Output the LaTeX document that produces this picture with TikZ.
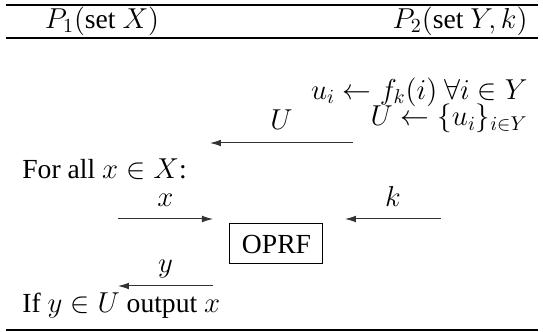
\documentclass[tikz,border=0pt]{standalone}
\usepackage{amsmath}
\usepackage[no-math]{fontspec}
\setmainfont{Liberation Serif}
\usetikzlibrary{arrows.meta}
\begin{document}
\begin{tikzpicture}[x=0.5pt,y=-0.5pt,
  every node/.style={font=\fontsize{13.8}{16}\selectfont, inner sep=0pt},
  heavyrule/.style={line width=1.1pt},
  lightrule/.style={line width=0.7pt},
  msg/.style={line width=0.5pt, draw=black!80, -{Latex[length=5.5pt,width=3.4pt]}},
  lbl/.style={anchor=base, yshift=6.5pt},
  prfbox/.style={draw, line width=0.5pt, minimum width=46.5pt, minimum height=20pt}]
\useasboundingbox (0,0) rectangle (543,332);
% rules
\coordinate (tl) at (6,5);   \coordinate (tr) at (538,5);
\coordinate (ml) at (6,38);  \coordinate (mr) at (538,38);
\coordinate (bl) at (6,330); \coordinate (br) at (538,330);
\draw[heavyrule] (tl) -- (tr);
\draw[lightrule] (ml) -- (mr);
\draw[heavyrule] (bl) -- (br);
% headers
\node[anchor=base] (p1) at (102,28) {$P_1(\text{set } X)$};
\node[anchor=base east] (p2) at (528,28) {$P_2(\text{set } Y, k)$};
% P2 computation
\node[anchor=base east] (c1) at (528,99) {$u_i \leftarrow f_k(i)\ \forall i \in Y$};
\node[anchor=base east] (c2) at (528,126) {$U \leftarrow \{u_i\}_{i\in Y}$};
% U message
\coordinate (us) at (353,143); \coordinate (ue) at (210,143);
\draw[msg] (us) -- (ue) node[midway, lbl] (ul) {$U$};
% For all
\node[anchor=base west] (fa) at (22,178) {For all $x \in X$:};
% OPRF
\node[prfbox] (oprf) at (276.5,244) {OPRF};
\coordinate (xs) at (118,219); \coordinate (xe) at (213,219);
\draw[msg] (xs) -- (xe) node[midway, lbl] (xl) {$x$};
\coordinate (ks) at (441,219); \coordinate (ke) at (345,219);
\draw[msg] (ks) -- (ke) node[midway, lbl] (kl) {$k$};
\coordinate (ys) at (213,286); \coordinate (ye) at (118,286);
\draw[msg] (ys) -- (ye) node[midway, lbl] (yl) {$y$};
% output
\node[anchor=base west] (out) at (22,313) {If $y \in U$ output $x$};
\end{tikzpicture}
\end{document}
